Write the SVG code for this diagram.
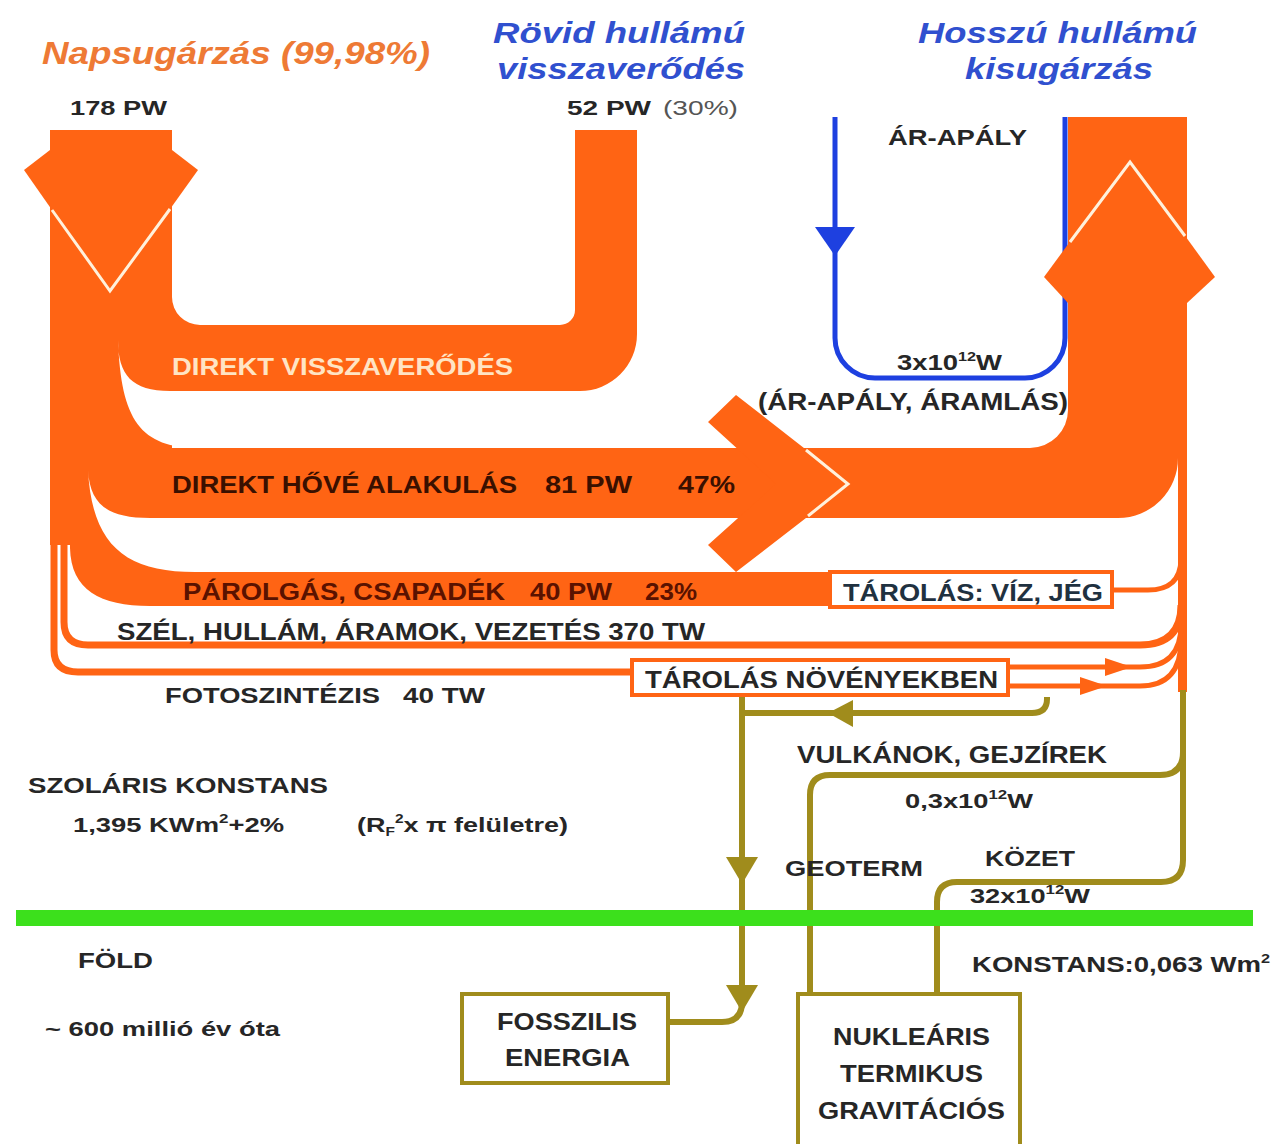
<svg xmlns="http://www.w3.org/2000/svg" width="1279" height="1144" viewBox="0 0 1279 1144">
<defs>
<style>
.t{font-family:"Liberation Sans",Arial,sans-serif;font-weight:bold;fill:#262626}
.ti{font-family:"Liberation Sans",Arial,sans-serif;font-weight:bold;font-style:italic}
.or{fill:#FF6414}
.gap{fill:#fff}
.ost{fill:none;stroke:#FF6414;stroke-width:7}
.ost5{fill:none;stroke:#FF6414;stroke-width:5}
.ol{fill:none;stroke:#A08C1C;stroke-width:6}
.olf{fill:#A08C1C}
.wl{fill:none;stroke:#FFF1DC;stroke-width:3}
.obox{fill:#fff;stroke:#FF6414;stroke-width:4}
.gbox{fill:#fff;stroke:#A08C1C;stroke-width:4}
.blue{fill:none;stroke:#1E40E0;stroke-width:5}
</style>
</defs>
<rect width="1279" height="1144" fill="#fff"/>

<g id="connectors">
  <!-- tidal blue loop -->
  <path class="blue" d="M835,117 L835,338 A40,40 0 0 0 875,378 L1025,378 A40,40 0 0 0 1065,338 L1065,117"/>
  <polygon points="815,227 855,227 835,256" fill="#1E40E0"/>

  <!-- orange flows -->
  <rect class="or" x="50" y="130" width="122" height="415"/>
  <path class="or" d="M150,325 L560,325 A15,15 0 0 0 575,310 L575,130 L637,130 L637,334 A57,57 0 0 1 580,391 L150,391 Z"/>
  <path class="or" d="M172,297 A28,28 0 0 0 200,325 L172,325 Z"/>
  <path class="or" d="M150,448 L1030,448 A38,38 0 0 0 1068,410 L1068,117 L1187,117 L1187,458 L1178,458 A60,60 0 0 1 1118,518 L150,518 Z"/>
  <rect class="or" x="1178" y="450" width="9" height="242"/>
  <path class="or" d="M70,530 L220,530 L220,572 L830,572 L830,606 L150,606 C100,606 71,590 70,548 Z"/>
  <path class="ost" d="M64,530 L64,622 Q64,645 88,645 L1140,645 Q1181,645 1181,605"/>
  <path class="ost" d="M54,530 L54,650 Q54,672 78,672 L634,672"/>
  <path class="ost5" d="M1112,590 L1148,590 Q1180,590 1181,560"/>
  <path class="ost5" d="M1008,667 L1140,667 Q1181,667 1181,625"/>
  <path class="ost5" d="M1008,686 L1140,686 Q1181,686 1181,640"/>
  <polygon class="or" points="1105,658 1132,667 1105,676"/>
  <polygon class="or" points="1080,677 1107,686 1080,695"/>

  <!-- white gaps between flows -->
  <path class="gap" d="M118,340 C118,375 132,391 170,391 L700,391 L700,448 L200,448 C140,448 121,420 118,340 Z"/>
  <path class="gap" d="M88,470 C90,505 108,518 150,518 L860,518 L860,572 L195,572 C125,572 92,545 88,470 Z"/>

  <!-- arrow heads on main flows -->
  <polygon class="or" points="50,150 24,170 110,293 198,170 172,150"/>
  <polyline class="wl" points="52,210 110,291 170,209"/>
  <polygon class="or" points="1068,303 1044,277 1130,160 1215,277 1187,303"/>
  <polyline class="wl" points="1070,242 1130,162 1185,236"/>
  <polygon class="or" points="708,422 736,395 850,484 736,572 708,545 776,484"/>
  <polyline class="wl" points="806,450 848,484 808,516"/>

  <!-- olive (geothermal / fossil) lines -->
  <path class="ol" d="M742,697 L742,1002 Q742,1022 722,1022 L668,1022"/>
  <path class="ol" d="M1047,697 L1047,699 Q1047,713 1032,713 L742,713"/>
  <path class="ol" d="M1183,690 L1183,860 Q1183,882 1161,882 L957,882 Q937,882 937,902 L937,994"/>
  <path class="ol" d="M1183,752 Q1183,775 1160,775 L830,775 Q810,775 810,795 L810,994"/>
  <polygon class="olf" points="828,713 853,700 853,727"/>
  <polygon class="olf" points="726,857 758,857 742,884"/>
  <polygon class="olf" points="726,985 758,985 742,1012"/>

  <!-- surface line -->
  <rect x="16" y="910" width="1237" height="16" fill="#3CE01C"/>
</g>

<g id="title-napsugarzas"><text class="ti" x="42" y="64" font-size="31" fill="#EE7A35" textLength="388" lengthAdjust="spacingAndGlyphs">Napsugárzás (99,98%)</text></g>
<g id="title-rovid">
  <text class="ti" x="493" y="43" font-size="30" fill="#3050CF" textLength="252" lengthAdjust="spacingAndGlyphs">Rövid hullámú</text>
  <text class="ti" x="497" y="79" font-size="30" fill="#3050CF" textLength="248" lengthAdjust="spacingAndGlyphs">visszaverődés</text>
</g>
<g id="title-hosszu">
  <text class="ti" x="918" y="43" font-size="30" fill="#3050CF" textLength="279" lengthAdjust="spacingAndGlyphs">Hosszú hullámú</text>
  <text class="ti" x="965" y="79" font-size="30" fill="#3050CF" textLength="188" lengthAdjust="spacingAndGlyphs">kisugárzás</text>
</g>
<g id="label-178"><text class="t" x="70" y="115" font-size="21" textLength="97" lengthAdjust="spacingAndGlyphs">178 PW</text></g>
<g id="label-52">
  <text class="t" x="567" y="115" font-size="21" textLength="84" lengthAdjust="spacingAndGlyphs">52 PW</text>
  <text class="t" x="663" y="115" font-size="21" style="font-weight:normal;fill:#555" textLength="75" lengthAdjust="spacingAndGlyphs">(30%)</text>
</g>
<g id="label-arapaly"><text class="t" x="888" y="145" font-size="22" textLength="139" lengthAdjust="spacingAndGlyphs">ÁR-APÁLY</text></g>
<g id="label-direkt-vissza"><text class="t" x="172" y="375" font-size="23" style="fill:#FFE4C4" textLength="341" lengthAdjust="spacingAndGlyphs">DIREKT VISSZAVERŐDÉS</text></g>
<g id="label-tidal">
  <text class="t" x="897" y="370" font-size="22" textLength="105" lengthAdjust="spacingAndGlyphs">3x10<tspan font-size="13" dy="-9">12</tspan><tspan dy="9">W</tspan></text>
  <text class="t" x="758" y="410" font-size="23" textLength="310" lengthAdjust="spacingAndGlyphs">(ÁR-APÁLY, ÁRAMLÁS)</text>
</g>
<g id="label-direkt-hove">
  <text class="t" x="172" y="493" font-size="24" style="fill:#3A1000" textLength="345" lengthAdjust="spacingAndGlyphs">DIREKT HŐVÉ ALAKULÁS</text>
  <text class="t" x="545" y="493" font-size="24" style="fill:#3A1000" textLength="87" lengthAdjust="spacingAndGlyphs">81 PW</text>
  <text class="t" x="678" y="493" font-size="24" style="fill:#3A1000" textLength="57" lengthAdjust="spacingAndGlyphs">47%</text>
</g>
<g id="label-parolgas">
  <text class="t" x="183" y="600" font-size="23" style="fill:#5A1200" textLength="322" lengthAdjust="spacingAndGlyphs">PÁROLGÁS, CSAPADÉK</text>
  <text class="t" x="530" y="600" font-size="23" style="fill:#5A1200" textLength="82" lengthAdjust="spacingAndGlyphs">40 PW</text>
  <text class="t" x="645" y="600" font-size="23" style="fill:#5A1200" textLength="52" lengthAdjust="spacingAndGlyphs">23%</text>
</g>
<g id="node-tarolas-viz">
  <rect class="obox" x="830" y="572" width="282" height="35"/>
  <text class="t" x="843" y="601" font-size="23" style="fill:#1F3140" textLength="260" lengthAdjust="spacingAndGlyphs">TÁROLÁS: VÍZ, JÉG</text>
</g>
<g id="label-szel"><text class="t" x="117" y="640" font-size="23" textLength="588" lengthAdjust="spacingAndGlyphs">SZÉL, HULLÁM, ÁRAMOK, VEZETÉS 370 TW</text></g>
<g id="node-tarolas-noveny">
  <rect class="obox" x="632" y="660" width="376" height="35"/>
  <text class="t" x="645" y="688" font-size="23" textLength="353" lengthAdjust="spacingAndGlyphs">TÁROLÁS NÖVÉNYEKBEN</text>
</g>
<g id="label-foto">
  <text class="t" x="165" y="703" font-size="22" textLength="215" lengthAdjust="spacingAndGlyphs">FOTOSZINTÉZIS</text>
  <text class="t" x="403" y="703" font-size="22" textLength="82" lengthAdjust="spacingAndGlyphs">40 TW</text>
</g>
<g id="label-vulkanok">
  <text class="t" x="797" y="763" font-size="23" textLength="310" lengthAdjust="spacingAndGlyphs">VULKÁNOK, GEJZÍREK</text>
  <text class="t" x="905" y="808" font-size="21" textLength="128" lengthAdjust="spacingAndGlyphs">0,3x10<tspan font-size="13" dy="-9">12</tspan><tspan dy="9">W</tspan></text>
</g>
<g id="label-szolaris">
  <text class="t" x="28" y="793" font-size="22" textLength="300" lengthAdjust="spacingAndGlyphs">SZOLÁRIS KONSTANS</text>
  <text class="t" x="73" y="832" font-size="21" textLength="211" lengthAdjust="spacingAndGlyphs">1,395 KWm<tspan font-size="13" dy="-9">2</tspan><tspan dy="9">+2%</tspan></text>
  <text class="t" x="357" y="832" font-size="21" textLength="211" lengthAdjust="spacingAndGlyphs">(R<tspan font-size="12" dy="4">F</tspan><tspan font-size="12" dy="-13">2</tspan><tspan dy="9">x π felületre)</tspan></text>
</g>
<g id="label-geoterm"><text class="t" x="785" y="876" font-size="22" textLength="138" lengthAdjust="spacingAndGlyphs">GEOTERM</text></g>
<g id="label-kozet">
  <text class="t" x="985" y="866" font-size="22" textLength="90" lengthAdjust="spacingAndGlyphs">KÖZET</text>
  <text class="t" x="970" y="903" font-size="21" textLength="120" lengthAdjust="spacingAndGlyphs">32x10<tspan font-size="13" dy="-9">12</tspan><tspan dy="9">W</tspan></text>
</g>
<g id="label-fold">
  <text class="t" x="78" y="968" font-size="22" textLength="75" lengthAdjust="spacingAndGlyphs">FÖLD</text>
  <text class="t" x="45" y="1036" font-size="21" textLength="235" lengthAdjust="spacingAndGlyphs">~ 600 millió év óta</text>
</g>
<g id="label-konstans"><text class="t" x="972" y="972" font-size="22" textLength="298" lengthAdjust="spacingAndGlyphs">KONSTANS:0,063 Wm<tspan font-size="13" dy="-9">2</tspan></text></g>
<g id="node-fosszilis">
  <rect class="gbox" x="462" y="994" width="206" height="89"/>
  <text class="t" x="497" y="1030" font-size="23" textLength="140" lengthAdjust="spacingAndGlyphs">FOSSZILIS</text>
  <text class="t" x="505" y="1066" font-size="23" textLength="125" lengthAdjust="spacingAndGlyphs">ENERGIA</text>
</g>
<g id="node-nuklearis">
  <rect class="gbox" x="798" y="994" width="222" height="170"/>
  <text class="t" x="833" y="1045" font-size="23" textLength="157" lengthAdjust="spacingAndGlyphs">NUKLEÁRIS</text>
  <text class="t" x="840" y="1082" font-size="23" textLength="143" lengthAdjust="spacingAndGlyphs">TERMIKUS</text>
  <text class="t" x="818" y="1119" font-size="23" textLength="187" lengthAdjust="spacingAndGlyphs">GRAVITÁCIÓS</text>
</g>
</svg>
